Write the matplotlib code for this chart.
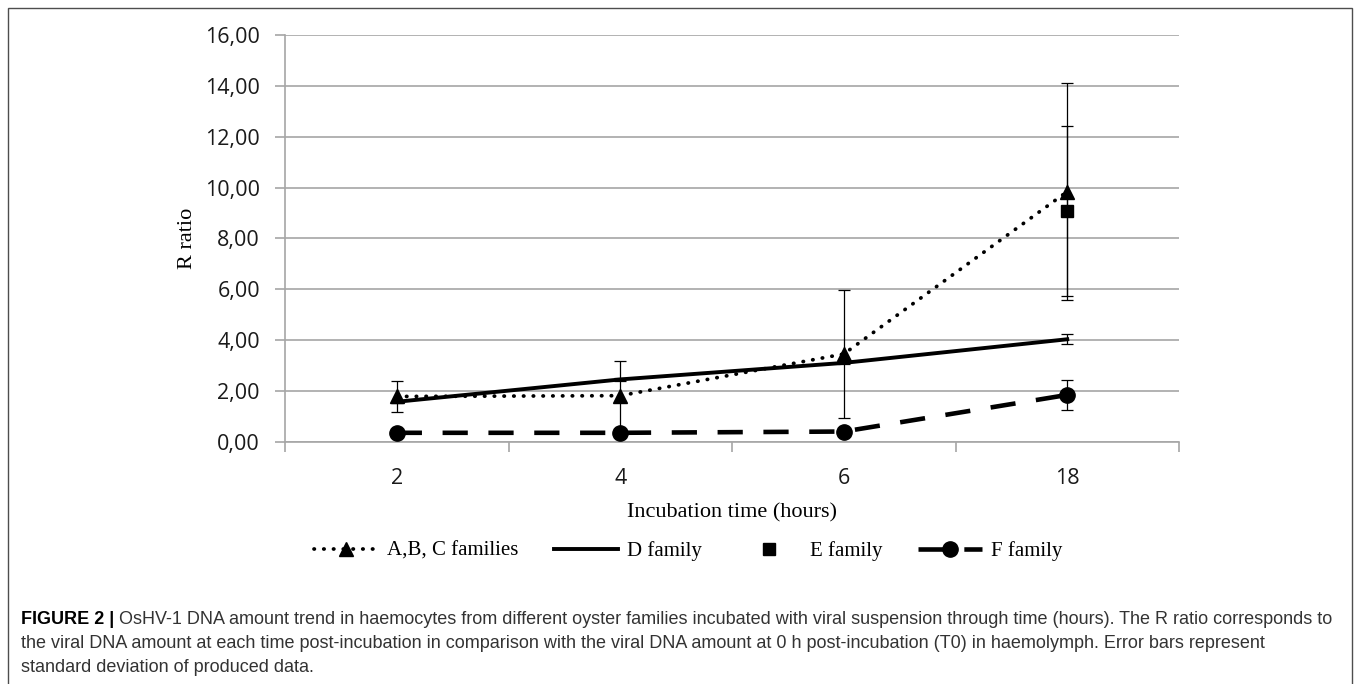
import numpy as np
import matplotlib
matplotlib.use('Agg')
import matplotlib.pyplot as plt
from matplotlib.ticker import FuncFormatter, FixedLocator
from matplotlib.patches import Rectangle

# data
times = ['2', '4', '6', '18']
abc_vals = [1.78, 1.81, 3.45, 9.84]
abc_err = [0.60, 1.36, 2.52, 4.27]
d_vals = [1.57, 2.45, 3.10, 4.03]
d_err = [0.05, 0.05, 0.05, 0.20]
e_vals = [np.nan, np.nan, np.nan, 9.08]
e_err = [0.0, 0.0, 0.0, 3.33]
f_vals = [0.35, 0.35, 0.40, 1.84]
f_err = [0.10, 0.10, 0.10, 0.60]
y_ticks = [0, 2, 4, 6, 8, 10, 12, 14, 16]

caption_bold = 'FIGURE 2 |'
caption_lines = [
    'OsHV-1 DNA amount trend in haemocytes from different oyster families incubated with viral suspension through time (hours). The R ratio corresponds to',
    'the viral DNA amount at each time post-incubation in comparison with the viral DNA amount at 0 h post-incubation (T0) in haemolymph. Error bars represent',
    'standard deviation of produced data.',
]

W, H = 1360, 684
fig = plt.figure(figsize=(W / 100, H / 100), dpi=100)
ax = fig.add_axes([285 / W, 1 - 441.7 / H, (1179 - 285) / W, (441.7 - 35) / H])

x = np.arange(len(times))
grid_col = '#a6a6a6'

# error bars first, then the lines on top
eb = dict(fmt='none', ecolor='black', elinewidth=0.9, capsize=4.3, capthick=0.9, zorder=3)
ax.errorbar(x, abc_vals, yerr=abc_err, **eb)
ax.errorbar(x, d_vals, yerr=d_err, **eb)
ax.errorbar(x, e_vals, yerr=e_err, **eb)
ax.errorbar(x, f_vals, yerr=f_err, **eb)

l_abc, = ax.plot(x, abc_vals, color='black', linestyle=(0, (0.1, 2.5)), dash_capstyle='round',
                 linewidth=2.7, marker='^', markersize=10, zorder=4, label='A,B, C families')
l_d, = ax.plot(x, d_vals, color='black', linestyle='-', linewidth=2.8, zorder=4, label='D family')
l_e, = ax.plot(x, e_vals, color='black', linestyle='none', marker='s', markersize=8,
               zorder=5, label='E family')
l_f, = ax.plot(x, f_vals, color='black', linestyle=(0, (5.5, 4.5)), linewidth=3.3,
               marker='o', markersize=11, zorder=4, label='F family')

ax.set_xlim(-0.5, len(times) - 0.5)
ax.set_ylim(0, 16)
ax.set_yticks(y_ticks)
ax.yaxis.set_major_formatter(FuncFormatter(lambda v, p: f'{v:.2f}'.replace('.', ',')))
ax.set_xticks(x)
ax.set_xticklabels(times)
ax.xaxis.set_minor_locator(FixedLocator(np.arange(-0.5, len(times), 1.0)))
ax.tick_params(axis='x', which='major', length=0, pad=19)
ax.tick_params(axis='x', which='minor', length=7, width=1.2, color=grid_col, direction='out')
ax.tick_params(axis='y', length=7, width=1.2, color=grid_col, direction='out', pad=11)
for lab in ax.get_xticklabels() + ax.get_yticklabels():
    lab.set_family(['Open Sans', 'DejaVu Sans'])
    lab.set_fontsize(15.5)
    lab.set_color('#1a1a1a')

ax.grid(axis='y', color=grid_col, linewidth=1.2)
ax.set_axisbelow(True)
for s in ['top', 'right']:
    ax.spines[s].set_visible(False)
for s in ['left', 'bottom']:
    ax.spines[s].set_color(grid_col)
    ax.spines[s].set_linewidth(1.2)

serif = ['Liberation Serif', 'DejaVu Serif']
ax.set_xlabel('Incubation time (hours)', family=serif, fontsize=16, labelpad=10)
ax.set_ylabel('R ratio', family=serif, fontsize=16, labelpad=6)

fig.legend(handles=[l_abc, l_d, l_e, l_f], loc='center', bbox_to_anchor=(688 / W, 1 - 551 / H),
           ncol=4, frameon=False, prop={'family': serif, 'size': 15}, handlelength=3.1,
           columnspacing=1.7, handletextpad=0.4)

# outer frame of the figure panel
fig.patches.append(Rectangle((8 / W, -0.05), (1352 - 8) / W, 1.05 - 8 / H,
                             transform=fig.transFigure, fill=False,
                             edgecolor='#4d4d4d', linewidth=1.0))

# caption
cap_font = ['Liberation Sans', 'DejaVu Sans']
cap_size = 13
cap_y = [619, 643, 667]
tb = fig.text(21 / W, 1 - cap_y[0] / H, caption_bold, family=cap_font, fontsize=cap_size,
              fontweight='bold', color='black', va='center')
ax.annotate(caption_lines[0], xy=(1, 0), xycoords=tb, xytext=(3.5, 0), textcoords='offset points',
            family=cap_font, fontsize=cap_size, color='#333333', va='bottom', ha='left',
            annotation_clip=False)
for line, yy in zip(caption_lines[1:], cap_y[1:]):
    fig.text(21 / W, 1 - yy / H, line, family=cap_font, fontsize=cap_size, color='#333333',
             va='center')

fig.savefig('out.png', dpi=100, facecolor='white')
